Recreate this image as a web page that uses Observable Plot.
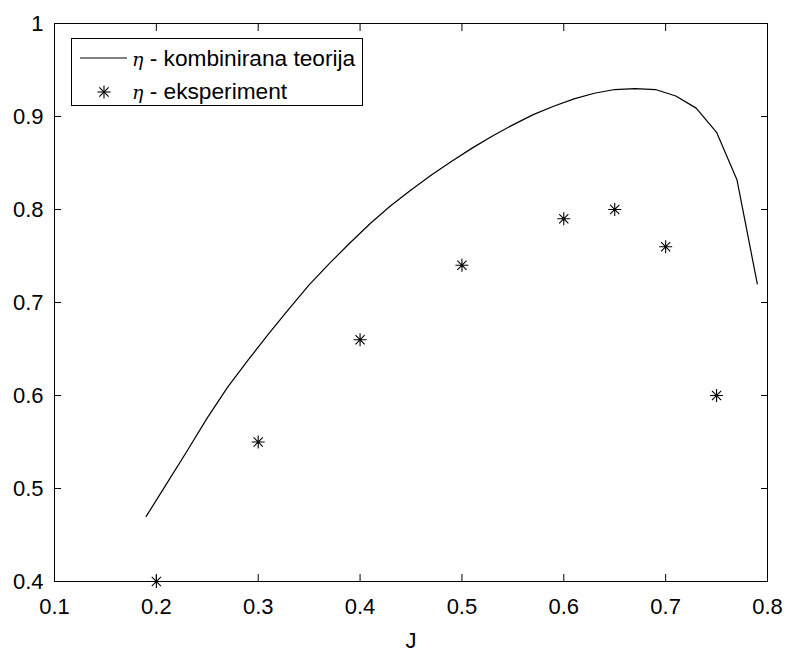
<!DOCTYPE html>
<html>
<head>
<meta charset="utf-8">
<script src="https://cdn.jsdelivr.net/npm/d3@7"></script>
<script src="https://cdn.jsdelivr.net/npm/@observablehq/plot@0.6"></script>
<style>
  html, body { margin: 0; padding: 0; background: #fff; }
  #wrap { position: relative; width: 787px; height: 656px; }
  #chart svg text { font-size: 22px !important; font-family: "Liberation Sans", Arial, sans-serif; }
  #legend {
    position: absolute; left: 71px; top: 38px; width: 292px; height: 68px;
    border: 1px solid #000; background: #fff; box-sizing: border-box;
    font-family: "Liberation Sans", Arial, sans-serif; font-size: 22.7px; color: #000;
  }
  .row { position: absolute; left: 0; height: 24px; display: flex; align-items: center; white-space: nowrap; }
  .eta { font-family: "DejaVu Serif", "Liberation Serif", serif; font-style: italic; font-size: 19px; }
</style>
</head>
<body>
<div id="wrap">
  <div id="chart"></div>
  <div id="legend">
    <div class="row" style="top:7px;">
      <svg width="52" height="24" style="margin-left:8px;"><line x1="0" x2="47" y1="12" y2="12" stroke="#000" stroke-width="1.2"/></svg>
      <span><span class="eta">η</span> - kombinirana teorija</span>
    </div>
    <div class="row" style="top:40px;">
      <svg width="52" height="24" style="margin-left:8px;">
        <g stroke="#000" stroke-width="1.1" transform="translate(24,13)">
          <line x1="-6.5" x2="6.5" y1="0" y2="0"/><line x1="0" x2="0" y1="-6.5" y2="6.5"/>
          <line x1="-4.6" x2="4.6" y1="-4.6" y2="4.6"/><line x1="-4.6" x2="4.6" y1="4.6" y2="-4.6"/>
        </g>
      </svg>
      <span><span class="eta">η</span> - eksperiment</span>
    </div>
  </div>
</div>
<script>
// Theory curve (η - kombinirana teorija)
const theoryJ = [0.19,0.21,0.23,0.25,0.27,0.29,0.31,0.33,0.35,0.37,0.39,0.41,0.43,0.45,0.47,0.49,0.51,0.53,0.55,0.57,0.59,0.61,0.63,0.65,0.67,0.69,0.71,0.73,0.75,0.77,0.79];
const theoryEta = [0.470,0.505,0.540,0.576,0.609,0.638,0.666,0.693,0.719,0.742,0.764,0.785,0.804,0.821,0.837,0.852,0.866,0.879,0.891,0.902,0.911,0.919,0.925,0.929,0.930,0.929,0.922,0.909,0.883,0.832,0.720];
// Experiment points (η - eksperiment)
const expJ = [0.2,0.3,0.4,0.5,0.6,0.65,0.7,0.75];
const expEta = [0.40,0.55,0.66,0.74,0.79,0.80,0.76,0.60];
// Ticks
const xTicks = [0.1,0.2,0.3,0.4,0.5,0.6,0.7,0.8];
const yTicks = [0.4,0.5,0.6,0.7,0.8,0.9,1];
const xLabel = "J";

const theory = theoryJ.map((j, i) => ({J: j, eta: theoryEta[i]}));
const experiment = expJ.map((j, i) => ({J: j, eta: expEta[i]}));

const asterisk = {
  draw(context, size) {
    const r = Math.sqrt(size / Math.PI);
    const d = r * Math.SQRT1_2;
    context.moveTo(-r, 0); context.lineTo(r, 0);
    context.moveTo(0, -r); context.lineTo(0, r);
    context.moveTo(-d, -d); context.lineTo(d, d);
    context.moveTo(-d, d); context.lineTo(d, -d);
  }
};

const fmt = d => String(d);
const none = () => "";

const chart = Plot.plot({
  width: 787,
  height: 656,
  marginLeft: 54,
  marginRight: 20,
  marginTop: 23,
  marginBottom: 75,
  style: {fontFamily: "'Liberation Sans', Arial, sans-serif", fontSize: "22px", color: "#000", background: "#fff"},
  x: {domain: [0.1, 0.8]},
  y: {domain: [0.4, 1]},
  marks: [
    Plot.axisX(xTicks, {anchor: "bottom", tickSize: -7, tickPadding: 24, tickFormat: fmt, label: null, stroke: "#000", strokeWidth: 1}),
    Plot.axisX(xTicks, {anchor: "top", tickSize: -7, tickFormat: none, label: null, stroke: "#000", strokeWidth: 1}),
    Plot.axisY(yTicks, {anchor: "left", tickSize: -7, tickPadding: 18, tickFormat: fmt, label: null, stroke: "#000", strokeWidth: 1}),
    Plot.axisY(yTicks, {anchor: "right", tickSize: -7, tickFormat: none, label: null, stroke: "#000", strokeWidth: 1}),
    Plot.frame({stroke: "#000", strokeWidth: 1}),
    Plot.line(theory, {x: "J", y: "eta", stroke: "#000", strokeWidth: 1.2}),
    Plot.dot(experiment, {x: "J", y: "eta", symbol: asterisk, r: 6.5, stroke: "#000", strokeWidth: 1.1, fill: "none"}),
    Plot.text([xLabel], {frameAnchor: "bottom", dy: 66, text: d => d, fill: "#000"})
  ]
});
document.getElementById("chart").appendChild(chart);
</script>
</body>
</html>
